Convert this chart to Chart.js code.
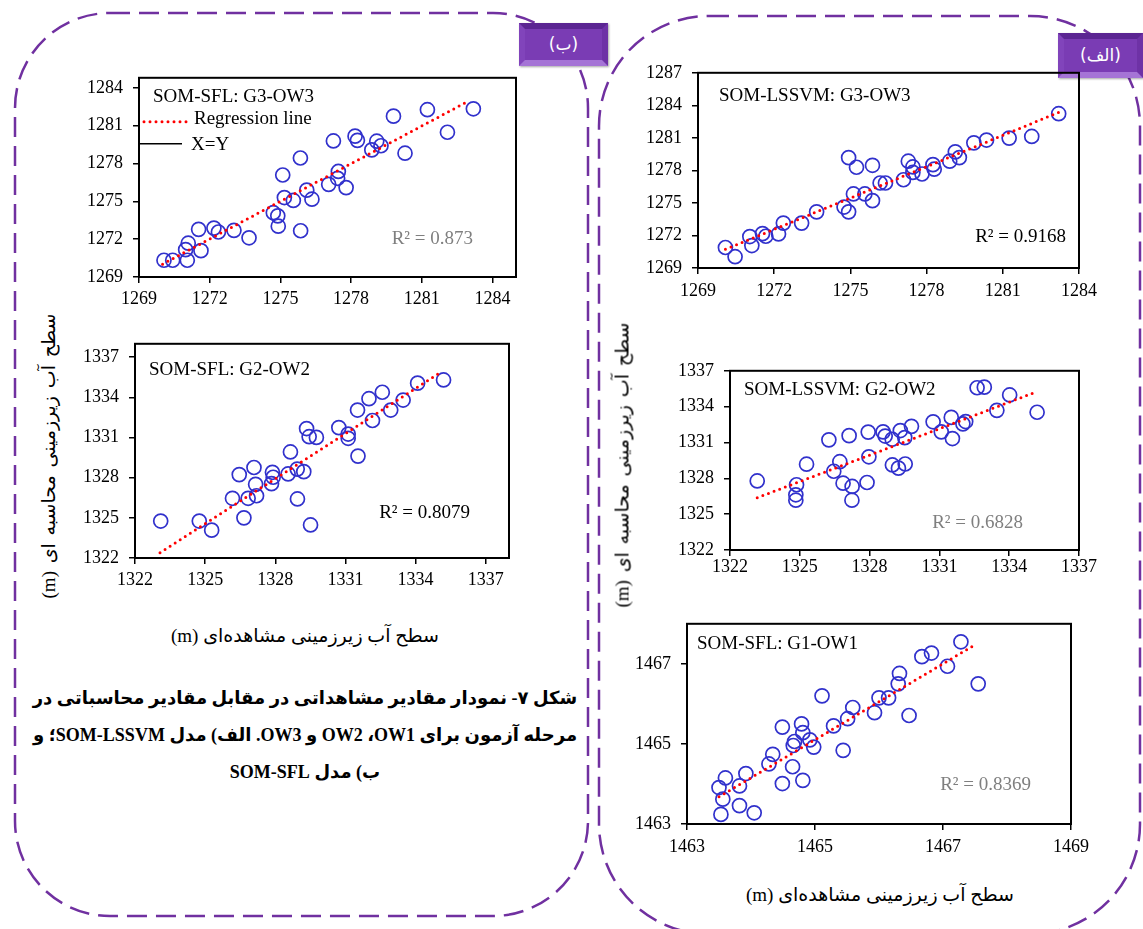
<!DOCTYPE html>
<html lang="fa">
<head>
<meta charset="utf-8">
<script src="https://cdn.jsdelivr.net/npm/chart.js@4.4.1/dist/chart.umd.min.js"></script>
<style>
  body { margin: 0; width: 1143px; height: 929px; background: #fff; position: relative; overflow: hidden;
         font-family: "Liberation Serif", "DejaVu Sans", serif; }
  canvas { position: absolute; }
  svg.frames { position: absolute; left: 0; top: 0; }
  .tag { position: absolute; box-sizing: border-box; color: #fff; font-family: "DejaVu Sans", sans-serif;
         font-size: 17px; text-align: center; direction: rtl;
         background: #7a3cb4; border: 6px solid; border-color: #5b2592 #6e32a6 #a574d6 #8144bb;
         box-shadow: 1px 1px 2px rgba(0,0,0,0.35); }
  .ytitle { position: absolute; transform: translate(-50%, -50%) rotate(-90deg); white-space: nowrap;
            direction: rtl; font-size: 19px; word-spacing: 3px; color: #000; }
  .xtitle { position: absolute; transform: translate(-50%, -50%); white-space: nowrap;
            direction: rtl; font-size: 19px; color: #000; }
  .caption { position: absolute; left: 18px; top: 680px; width: 574px; direction: rtl; text-align: center;
             font-weight: bold; font-size: 18px; line-height: 37px; color: #000; white-space: nowrap; }
</style>
</head>
<body>

<svg class="frames" width="1143" height="929">
  <rect x="15" y="13" width="573" height="903" rx="95" ry="95" fill="none"
        stroke="#7030a0" stroke-width="2.5" stroke-dasharray="20 9"/>
  <rect x="599" y="16" width="541" height="918" rx="110" ry="110" fill="none"
        stroke="#7030a0" stroke-width="2.5" stroke-dasharray="20 9"/>
</svg>

<div class="tag" style="left:519px; top:23px; width:89px; height:43px; line-height:31px;">(ب)</div>
<div class="tag" style="left:1058px; top:33px; width:85px; height:45px; line-height:33px;">(الف)</div>

<canvas id="chartB1"></canvas>
<canvas id="chartB2"></canvas>
<canvas id="chartA1"></canvas>
<canvas id="chartA2"></canvas>
<canvas id="chartA3"></canvas>

<div class="ytitle" style="left:48px; top:456px;">سطح آب زیرزمینی محاسبه ای (m)</div>
<div class="ytitle" style="left:622px; top:465px;">سطح آب زیرزمینی محاسبه ای (m)</div>
<div class="xtitle" style="left:305px; top:635px;">سطح آب زیرزمینی مشاهده‌ای (m)</div>
<div class="xtitle" style="left:880px; top:894px;">سطح آب زیرزمینی مشاهده‌ای (m)</div>

<div class="caption">شکل ۷- نمودار مقادیر مشاهداتی در مقابل مقادیر محاسباتی در<br>مرحله آزمون برای <bdi>OW1</bdi>، <bdi>OW2</bdi> و <bdi>OW3</bdi>. الف) مدل <bdi>SOM-LSSVM</bdi>؛ و<br>ب) مدل SOM-SFL</div>

<script>
// observed (x) and computed (y) water levels, one pair of arrays per panel

// SOM-LSSVM: G3-OW3
const a1Obs = [1270.08, 1270.46, 1271.04, 1271.12, 1271.54, 1271.67, 1272.17, 1272.36, 1273.08, 1273.67,
               1274.75, 1274.93, 1274.93, 1275.24, 1275.12, 1275.57, 1275.87, 1275.87, 1276.17, 1276.38,
               1277.09, 1277.28, 1277.46, 1277.46, 1277.82, 1278.25, 1278.30, 1278.91, 1279.13, 1279.29,
               1279.86, 1280.36, 1281.25, 1282.14, 1283.20];
const a1Sim = [1270.89, 1270.04, 1271.90, 1271.07, 1272.17, 1271.93, 1272.14, 1273.14, 1273.14, 1274.18,
               1274.62, 1274.18, 1279.18, 1278.29, 1275.83, 1275.83, 1275.21, 1278.47, 1276.84, 1276.84,
               1277.14, 1278.85, 1278.32, 1277.81, 1277.67, 1278.53, 1278.11, 1278.85, 1279.71, 1279.18,
               1280.54, 1280.80, 1280.98, 1281.13, 1283.23];
const a1RegX = [1270.08, 1283.20];
const a1RegY = [1270.72, 1283.35];

// SOM-LSSVM: G2-OW2
const a2Obs = [1323.17, 1324.86, 1324.83, 1324.83, 1325.29, 1326.25, 1326.46, 1326.72, 1326.86, 1327.12,
               1327.25, 1327.24, 1327.89, 1327.94, 1327.97, 1328.58, 1328.67, 1328.97, 1328.98, 1329.24,
               1329.32, 1329.51, 1329.53, 1329.80, 1330.73, 1331.08, 1331.51, 1331.56, 1332.01, 1332.13,
               1332.62, 1332.93, 1333.47, 1334.02, 1335.20];
const a2Sim = [1327.78, 1327.46, 1326.62, 1326.17, 1329.18, 1331.22, 1328.59, 1329.39, 1327.59, 1331.57,
               1327.32, 1326.17, 1327.65, 1331.87, 1329.80, 1331.89, 1331.54, 1331.27, 1329.12, 1328.85,
               1332.00, 1331.41, 1329.20, 1332.35, 1332.73, 1331.89, 1333.10, 1331.33, 1332.56, 1332.75,
               1335.58, 1335.63, 1333.69, 1334.98, 1333.53];
const a2RegX = [1323.17, 1335.08];
const a2RegY = [1326.38, 1335.17];

// SOM-SFL: G1-OW1
const a3Obs = [1463.50, 1463.60, 1463.56, 1463.53, 1463.82, 1463.82, 1463.92, 1464.05, 1464.28, 1464.34,
               1464.49, 1464.49, 1464.65, 1464.66, 1464.68, 1464.79, 1464.81, 1464.81, 1464.92, 1464.98,
               1465.11, 1465.29, 1465.44, 1465.51, 1465.59, 1465.93, 1466.00, 1466.15, 1466.30, 1466.32,
               1466.47, 1466.67, 1466.82, 1467.07, 1467.28, 1467.55];
const a3Sim = [1463.91, 1464.15, 1463.62, 1463.24, 1463.95, 1463.46, 1464.26, 1463.28, 1464.50, 1464.74,
               1464.01, 1465.42, 1464.43, 1464.96, 1465.06, 1465.50, 1465.28, 1464.09, 1465.10, 1464.92,
               1466.20, 1465.45, 1464.84, 1465.63, 1465.91, 1465.78, 1466.15, 1466.15, 1466.50, 1466.76,
               1465.71, 1467.18, 1467.27, 1466.94, 1467.55, 1466.50];
const a3RegX = [1463.50, 1467.45];
const a3RegY = [1463.68, 1467.43];

// SOM-SFL: G3-OW3
const b1Obs = [1270.06, 1270.43, 1271.05, 1270.98, 1271.09, 1271.63, 1271.53, 1272.18, 1272.37, 1273.03,
               1273.67, 1274.70, 1274.89, 1274.91, 1275.10, 1275.17, 1275.55, 1275.85, 1275.86, 1276.12,
               1276.34, 1277.05, 1277.25, 1277.46, 1277.43, 1277.79, 1278.17, 1278.27, 1278.88, 1279.09,
               1279.27, 1279.80, 1280.29, 1281.24, 1282.09, 1283.19];
const b1Sim = [1270.33, 1270.33, 1270.33, 1271.17, 1271.68, 1271.09, 1272.78, 1272.88, 1272.57, 1272.70,
               1272.11, 1274.10, 1273.85, 1273.03, 1277.09, 1275.30, 1275.07, 1278.44, 1272.67, 1275.89,
               1275.17, 1276.35, 1279.79, 1277.37, 1276.83, 1276.09, 1280.17, 1279.84, 1279.08, 1279.77,
               1279.41, 1281.76, 1278.82, 1282.27, 1280.48, 1282.34];
const b1RegX = [1270.00, 1282.98];
const b1RegY = [1270.02, 1282.95];

// SOM-SFL: G2-OW2
const b2Obs = [1323.10, 1324.75, 1325.28, 1326.17, 1326.46, 1326.66, 1326.84, 1327.20, 1327.09, 1327.16,
               1327.84, 1327.88, 1327.91, 1328.55, 1328.65, 1328.94, 1328.95, 1329.22, 1329.34, 1329.45,
               1329.76, 1329.51, 1330.72, 1331.12, 1331.12, 1331.54, 1331.52, 1332.01, 1332.16, 1332.58,
               1332.94, 1333.47, 1334.09, 1335.20];
const b2Sim = [1324.76, 1324.76, 1324.08, 1326.46, 1328.23, 1325.00, 1326.46, 1326.65, 1328.76, 1327.50,
               1327.55, 1328.40, 1328.03, 1328.28, 1329.92, 1328.64, 1326.41, 1328.45, 1331.67, 1331.06,
               1331.01, 1324.47, 1331.74, 1330.94, 1331.26, 1329.61, 1333.05, 1333.90, 1332.27, 1334.38,
               1333.05, 1333.80, 1335.06, 1335.30];
const b2RegX = [1323.07, 1334.96];
const b2RegY = [1322.39, 1335.74];

// tick labels
const ticks1269 = [1269, 1272, 1275, 1278, 1281, 1284];
const ticks1269y = [1269, 1272, 1275, 1278, 1281, 1284, 1287];
const ticks1322 = [1322, 1325, 1328, 1331, 1334, 1337];
const ticks1463x = [1463, 1465, 1467, 1469];
const ticks1463y = [1463, 1465, 1467];

const BLUE = '#3131cc';
const GREY = '#7f7f7f';
const Y_W = 60, X_H = 36, PAD_T = 14, PAD_R = 30;

const panelText = {
  id: 'panelText',
  beforeDatasetsDraw(chart, args, opts) {
    const a = chart.chartArea, ctx = chart.ctx;
    ctx.save();
    ctx.strokeStyle = '#000';
    ctx.lineWidth = 2;
    ctx.strokeRect(a.left, a.top, a.right - a.left, a.bottom - a.top);
    ctx.restore();
  },
  afterDraw(chart, args, opts) {
    const a = chart.chartArea, ctx = chart.ctx;
    ctx.save();
    ctx.font = '19px "Liberation Serif"';
    ctx.textBaseline = 'middle';
    ctx.textAlign = 'left';
    ctx.fillStyle = '#000';
    ctx.fillText(opts.title, a.left + opts.titleDx, a.top + opts.titleDy);
    if (opts.legend) {
      // regression line / X=Y keys
      ctx.strokeStyle = '#ff0000';
      ctx.lineWidth = 3;
      ctx.lineCap = 'round';
      ctx.setLineDash([0, 6]);
      ctx.beginPath();
      ctx.moveTo(a.left + 5, a.top + 44);
      ctx.lineTo(a.left + 49, a.top + 44);
      ctx.stroke();
      ctx.setLineDash([]);
      ctx.lineCap = 'butt';
      ctx.strokeStyle = '#000';
      ctx.lineWidth = 1.5;
      ctx.beginPath();
      ctx.moveTo(a.left, a.top + 66);
      ctx.lineTo(a.left + 43, a.top + 66);
      ctx.stroke();
      ctx.fillText('Regression line', a.left + 55, a.top + 41);
      ctx.fillText('X=Y', a.left + 52, a.top + 67);
    }
    ctx.fillStyle = opts.r2Color;
    ctx.textAlign = 'right';
    ctx.fillText(opts.r2, a.right - opts.r2Dx, a.bottom - opts.r2Dy);
    ctx.restore();
  }
};

function fixedTicks(values) {
  return scale => { scale.ticks = values.map(v => ({ value: v })); };
}

function makeChart(id, p) {
  const canvas = document.getElementById(id);
  const w = Y_W + (p.box.r - p.box.l) + PAD_R;
  const h = PAD_T + (p.box.b - p.box.t) + X_H;
  canvas.width = w;
  canvas.height = h;
  canvas.style.left = (p.box.l - Y_W) + 'px';
  canvas.style.top = (p.box.t - PAD_T) + 'px';

  const pts = p.obs.map((x, i) => ({ x: x, y: p.sim[i] }));
  const reg = p.regX.map((x, i) => ({ x: x, y: p.regY[i] }));
  const tickFont = { family: 'Liberation Serif', size: 18 };
  const plain = v => String(v);

  new Chart(canvas, {
    type: 'scatter',
    data: {
      datasets: [{
        type: 'line',
        data: reg,
        borderColor: '#ff0000',
        borderWidth: 3,
        borderDash: [0, 6],
        borderCapStyle: 'round',
        pointRadius: 0,
        fill: false
      }, {
        data: pts,
        pointStyle: 'circle',
        pointRadius: 7,
        pointBorderWidth: 1.7,
        pointBorderColor: BLUE,
        pointBackgroundColor: 'rgba(0,0,0,0)'
      }]
    },
    options: {
      responsive: false,
      animation: false,
      devicePixelRatio: 1,
      layout: { padding: { top: PAD_T, right: PAD_R, left: 0, bottom: 0 } },
      plugins: {
        legend: { display: false },
        tooltip: { enabled: false },
        panelText: p.text
      },
      scales: {
        x: {
          type: 'linear', position: 'bottom', min: p.xMin, max: p.xMax,
          afterBuildTicks: fixedTicks(p.xTicks),
          afterFit: s => { s.height = X_H; },
          grid: { drawOnChartArea: false, color: '#000', lineWidth: 1.5, tickLength: 6 },
          border: { display: false },
          ticks: { color: '#000', font: tickFont, padding: p.xPad, maxRotation: 0, callback: plain }
        },
        y: {
          type: 'linear', position: 'left', min: p.yMin, max: p.yMax,
          afterBuildTicks: fixedTicks(p.yTicks),
          afterFit: s => { s.width = Y_W; },
          grid: { drawOnChartArea: false, color: '#000', lineWidth: 1.5, tickLength: 6 },
          border: { display: false },
          ticks: { color: '#000', font: tickFont, padding: 10, callback: plain }
        }
      }
    },
    plugins: [panelText]
  });
}

makeChart('chartA1', {
  box: { l: 698, t: 66, r: 1079, b: 268 },
  obs: a1Obs, sim: a1Sim, regX: a1RegX, regY: a1RegY,
  xMin: 1269, xMax: 1284, yMin: 1269, yMax: 1287,
  xTicks: ticks1269, yTicks: ticks1269y, xPad: 6,
  text: { title: 'SOM-LSSVM: G3-OW3', titleDx: 21, titleDy: 23,
          r2: 'R² = 0.9168', r2Color: '#000', r2Dx: 13, r2Dy: 31 }
});

makeChart('chartA2', {
  box: { l: 730, t: 364, r: 1079, b: 550 },
  obs: a2Obs, sim: a2Sim, regX: a2RegX, regY: a2RegY,
  xMin: 1322, xMax: 1337, yMin: 1322, yMax: 1337,
  xTicks: ticks1322, yTicks: ticks1322, xPad: 0,
  text: { title: 'SOM-LSSVM: G2-OW2', titleDx: 14, titleDy: 19,
          r2: 'R² = 0.6828', r2Color: GREY, r2Dx: 56, r2Dy: 27 }
});

makeChart('chartA3', {
  box: { l: 687, t: 617, r: 1071, b: 824 },
  obs: a3Obs, sim: a3Sim, regX: a3RegX, regY: a3RegY,
  xMin: 1463, xMax: 1469, yMin: 1463, yMax: 1468,
  xTicks: ticks1463x, yTicks: ticks1463y, xPad: 6,
  text: { title: 'SOM-SFL: G1-OW1', titleDx: 10, titleDy: 20,
          r2: 'R² = 0.8369', r2Color: GREY, r2Dx: 40, r2Dy: 39 }
});

makeChart('chartB1', {
  box: { l: 139, t: 71, r: 516, b: 277 },
  obs: b1Obs, sim: b1Sim, regX: b1RegX, regY: b1RegY,
  xMin: 1269, xMax: 1285, yMin: 1269, yMax: 1284.8,
  xTicks: ticks1269, yTicks: ticks1269, xPad: 5,
  text: { title: 'SOM-SFL: G3-OW3', titleDx: 14, titleDy: 19, legend: true,
          r2: 'R² = 0.873', r2Color: GREY, r2Dx: 43, r2Dy: 38 }
});

makeChart('chartB2', {
  box: { l: 135, t: 337, r: 509, b: 558 },
  obs: b2Obs, sim: b2Sim, regX: b2RegX, regY: b2RegY,
  xMin: 1322, xMax: 1338, yMin: 1322, yMax: 1338,
  xTicks: ticks1322, yTicks: ticks1322, xPad: 5,
  text: { title: 'SOM-SFL: G2-OW2', titleDx: 14, titleDy: 26,
          r2: 'R² = 0.8079', r2Color: '#000', r2Dx: 39, r2Dy: 45 }
});
</script>
</body>
</html>
